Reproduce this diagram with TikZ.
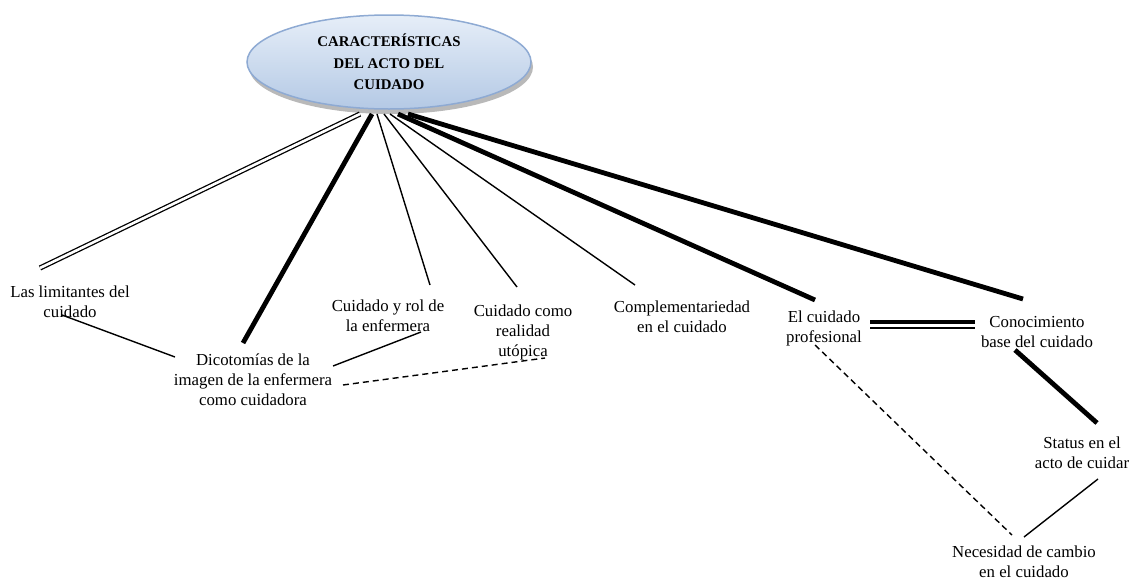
\documentclass[tikz,border=0pt]{standalone}
\usepackage{fontspec}
\setmainfont{Liberation Serif}
\usetikzlibrary{shapes.geometric}
\definecolor{elltop}{HTML}{E6EEF8}
\definecolor{ellbot}{HTML}{B4C9E5}
\definecolor{elldraw}{HTML}{8EAAD3}
\begin{document}
\begin{tikzpicture}[x=1pt,y=-1pt,
  lbl/.style={align=center,font=\fontsize{16.8}{20}\selectfont,inner sep=0pt},
  thinln/.style={line width=1.4pt},
  thickln/.style={line width=4.8pt},
  dbl/.style={double,double distance=2.6pt,line width=1.3pt},
  dsh/.style={line width=1.4pt,dash pattern=on 6pt off 4pt}]
\useasboundingbox (0,0) rectangle (1140,581);
% central ellipse
\fill[gray!55] (391,67) ellipse [x radius=142,y radius=47];
\node (c) [draw=elldraw,line width=1.5pt,ellipse,minimum width=284,minimum height=94,
  top color=elltop,bottom color=ellbot,align=center,inner sep=0pt,
  font=\bfseries\fontsize{14.8}{21.5}\selectfont] at (389,62) {CARACTERÍSTICAS\\DEL ACTO DEL\\CUIDADO};
% labels
\node[lbl] (lim) at (70,302) {Las limitantes del\\cuidado};
\node[lbl] (dic) at (253,380) {Dicotomías de la\\imagen de la enfermera\\como cuidadora};
\node[lbl] (rol) at (388,316) {Cuidado y rol de\\la enfermera};
\node[lbl] (uto) at (523,332) {Cuidado como\\realidad\\utópica};
\node[lbl] (com) at (682,317) {Complementariedad\\en el cuidado};
\node[lbl] (pro) at (824,328) {El cuidado\\profesional};
\node[lbl] (con) at (1037,332) {Conocimiento\\base del cuidado};
\node[lbl] (sta) at (1082,453) {Status en el\\acto de cuidar};
\node[lbl] (nec) at (1024,562) {Necesidad de cambio\\en el cuidado};
% coordinates
\coordinate (s1) at (360,114);
\coordinate (s2) at (372,114);
\coordinate (s3) at (377,114);
\coordinate (s4) at (384,114);
\coordinate (s5) at (390,114);
\coordinate (s6) at (398,114);
\coordinate (s7) at (408,114);
\coordinate (e1) at (40,268);
\coordinate (e2) at (243,343);
\coordinate (e3) at (430,285);
\coordinate (e4) at (517,287);
\coordinate (e5) at (635,285);
\coordinate (e6) at (815,300);
\coordinate (e7) at (1023,299);
\coordinate (limb) at (62,315);
\coordinate (dicl) at (175,357);
\coordinate (dicr) at (333,366);
\coordinate (rolb) at (421,332);
\coordinate (dicd) at (343,385);
\coordinate (utob) at (545,358);
\coordinate (prr) at (870,322);
\coordinate (cnl) at (975,322);
\coordinate (prr2) at (870,328);
\coordinate (cnl2) at (975,328);
\coordinate (conb) at (1015,350);
\coordinate (stat) at (1097,423);
\coordinate (stab) at (1098,479);
\coordinate (necr) at (1024,537);
\coordinate (prob) at (815,345);
\coordinate (necl) at (1012,535);
% connectors
\draw[dbl] (s1) -- (e1);
\draw[thickln] (s2) -- (e2);
\draw[thinln] (s3) -- (e3);
\draw[thinln] (s4) -- (e4);
\draw[thinln] (s5) -- (e5);
\draw[thickln] (s6) -- (e6);
\draw[thickln] (s7) -- (e7);
\draw[thinln] (limb) -- (dicl);
\draw[thinln] (dicr) -- (rolb);
\draw[dsh] (dicd) -- (utob);
\draw[line width=4pt] (prr) -- (cnl);
\draw[thinln] (prr2) -- (cnl2);
\draw[thickln] (conb) -- (stat);
\draw[thinln] (stab) -- (necr);
\draw[dsh] (prob) -- (necl);
\end{tikzpicture}
\end{document}
